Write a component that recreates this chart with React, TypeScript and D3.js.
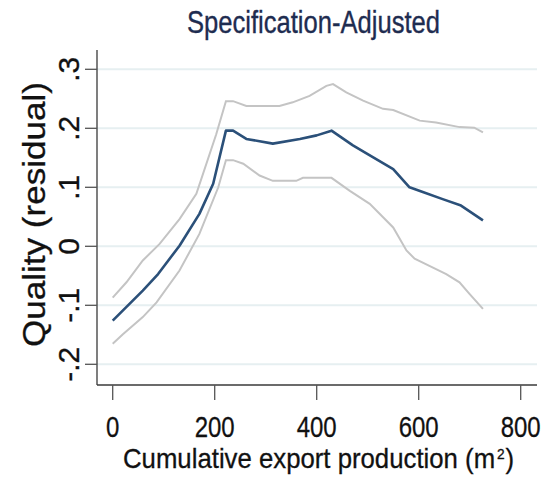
import React from "react";
import * as d3 from "d3";

const xTicks = [0, 200, 400, 600, 800];
const yTicks = [-0.2, -0.1, 0, 0.1, 0.2, 0.3];
const yTickLabels = ["-.2", "-.1", "0", ".1", ".2", ".3"];

const fitX = [0, 59, 89, 131, 170, 197, 222, 236, 262, 314, 367, 400, 429, 471, 510, 550, 582, 608, 647, 683, 726];
const fitY = [-0.126, -0.075, -0.047, 0.001, 0.055, 0.106, 0.196, 0.196, 0.182, 0.174, 0.182, 0.188, 0.196, 0.171, 0.151, 0.131, 0.1, 0.092, 0.08, 0.069, 0.044];

const upperX = [0, 27, 59, 92, 131, 164, 203, 222, 236, 262, 327, 353, 386, 419, 432, 458, 491, 530, 550, 602, 634, 680, 709, 726];
const upperY = [-0.087, -0.061, -0.024, 0.004, 0.046, 0.089, 0.19, 0.246, 0.246, 0.238, 0.238, 0.244, 0.255, 0.272, 0.275, 0.261, 0.247, 0.233, 0.231, 0.213, 0.21, 0.202, 0.201, 0.193];

const lowerX = [0, 20, 59, 86, 131, 170, 207, 222, 236, 256, 288, 314, 360, 373, 429, 465, 504, 550, 576, 592, 628, 654, 680, 700, 726];
const lowerY = [-0.165, -0.149, -0.12, -0.095, -0.041, 0.021, 0.1, 0.146, 0.146, 0.14, 0.12, 0.111, 0.111, 0.116, 0.116, 0.094, 0.072, 0.032, -0.007, -0.021, -0.036, -0.047, -0.061, -0.081, -0.106];

const titleText = "Specification-Adjusted";
const xTitle = "Cumulative export production (m";
const yTitle = "Quality (residual)";

export default function App() {
  const W = 545, H = 482;
  const x = d3.scaleLinear().domain([0, 800]).range([112.7, 520.7]);
  const y = d3.scaleLinear().domain([-0.2, 0.3]).range([364.3, 69.3]);
  const plotLeft = 97, plotRight = 537, plotTop = 50, plotBottom = 385;

  const line = d3.line<[number, number]>().x(d => x(d[0])).y(d => y(d[1]));
  const zip = (a: number[], b: number[]) => a.map((v, i) => [v, b[i]] as [number, number]);

  const font = "'Liberation Sans', Arial, Helvetica, sans-serif";

  return (
    <svg width={W} height={H} style={{ position: "absolute", left: 0, top: 0, background: "#fff" }}>
      <rect x={0} y={0} width={W} height={H} fill="#fff" />
      {yTicks.map(t => (
        <line key={"g" + t} x1={plotLeft} x2={plotRight} y1={y(t)} y2={y(t)} stroke="#e6eff1" strokeWidth={2} />
      ))}
      <path d={line(zip(upperX, upperY)) || ""} fill="none" stroke="#c4c4c4" strokeWidth={2} />
      <path d={line(zip(lowerX, lowerY)) || ""} fill="none" stroke="#c4c4c4" strokeWidth={2} />
      <path d={line(zip(fitX, fitY)) || ""} fill="none" stroke="#2b5079" strokeWidth={2.6} strokeLinejoin="round" />
      <line x1={plotLeft} x2={plotLeft} y1={plotTop} y2={plotBottom} stroke="#3a3a3a" strokeWidth={1.3} />
      <line x1={plotLeft} x2={plotRight} y1={plotBottom} y2={plotBottom} stroke="#3a3a3a" strokeWidth={1.3} />
      {yTicks.map((t, i) => (
        <g key={"yt" + t}>
          <line x1={85} x2={plotLeft} y1={y(t)} y2={y(t)} stroke="#555" strokeWidth={1.3} />
          <text
            transform={`translate(79,${y(t)}) rotate(-90)`}
            textAnchor="middle"
            fontFamily={font}
            fontSize={30}
            fill="#111"
            stroke="#111"
            strokeWidth={0.3}
          >
            {yTickLabels[i]}
          </text>
        </g>
      ))}
      {xTicks.map(t => (
        <g key={"xt" + t}>
          <line x1={x(t)} x2={x(t)} y1={plotBottom} y2={400} stroke="#555" strokeWidth={1.3} />
          <text
            transform={`translate(${x(t)},437) scale(0.8,1)`}
            textAnchor="middle"
            fontFamily={font}
            fontSize={30}
            fill="#111"
            stroke="#111"
            strokeWidth={0.3}
          >
            {t}
          </text>
        </g>
      ))}
      <text x={313.5} y={33} textAnchor="middle" fontFamily={font} fontSize={31} fill="#1e2c50" stroke="#1e2c50" strokeWidth={0.35} textLength={253} lengthAdjust="spacingAndGlyphs">
        {titleText}
      </text>
      <text
        transform="translate(123,468) scale(0.92,1)"
        fontFamily={font}
        fontSize={28}
        fill="#111"
        stroke="#111"
        strokeWidth={0.3}
      >
        {xTitle}
        <tspan fontSize={15} dy={-9} dx={2}>2</tspan>
        <tspan dy={9} dx={1}>)</tspan>
      </text>
      <text
        transform={`translate(45,214.5) rotate(-90)`}
        textAnchor="middle"
        fontFamily={font}
        fontSize={32}
        fill="#111"
        stroke="#111"
        strokeWidth={0.3}
        textLength={265}
        lengthAdjust="spacingAndGlyphs"
      >
        {yTitle}
      </text>
    </svg>
  );
}
